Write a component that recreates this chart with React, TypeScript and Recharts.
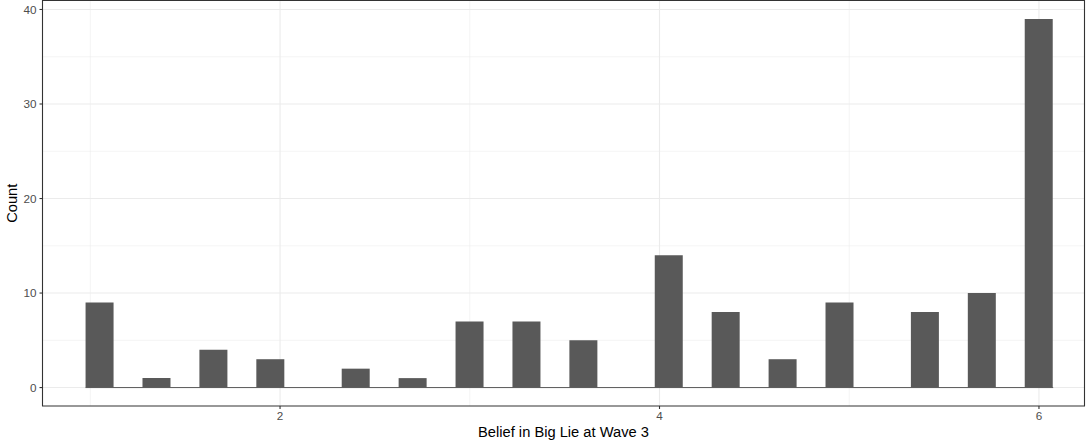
import React from "react";
import {
  BarChart,
  Bar,
  XAxis,
  YAxis,
  CartesianGrid,
  ReferenceLine,
  ReferenceArea,
} from "recharts";

// histogram bins (binwidth 0.15)
const binCenters = [
  1.05, 1.2, 1.35, 1.5, 1.65, 1.8, 1.95, 2.1, 2.25, 2.4, 2.55, 2.7, 2.85, 3.0,
  3.15, 3.3, 3.45, 3.6, 3.75, 3.9, 4.05, 4.2, 4.35, 4.5, 4.65, 4.8, 4.95, 5.1,
  5.25, 5.4, 5.55, 5.7, 5.85, 6.0,
];
const counts = [
  9, 0, 1, 0, 4, 0, 3, 0, 0, 2, 0, 1, 0, 7, 0, 7, 0, 5, 0, 0, 14, 0, 8, 0, 3, 0,
  9, 0, 0, 8, 0, 10, 0, 39,
];
const BIN_W = 0.15;

const xTicks = [2, 4, 6];
const xMinor = [1, 3, 5];
const yTicks = [0, 10, 20, 30, 40];
const yMinor = [5, 15, 25, 35];

const X_DOMAIN: [number, number] = [0.748, 6.24];
const Y_DOMAIN: [number, number] = [-1.95, 40.95];

const data = binCenters.map((x, i) => ({ x, count: counts[i] }));

const W = 1086;
const H = 444;
const MARGIN = { top: 0.5, right: 1.5, left: 0, bottom: 0 };
const Y_AXIS_W = 42.5;
const X_AXIS_H = 38;

const FONT = '"Liberation Sans", Arial, sans-serif';
const tickStyle = { fill: "#4d4d4d", fontSize: 11.7, fontFamily: FONT };

export default function App() {
  return (
    <div style={{ position: "absolute", left: 0, top: 0, background: "#fff" }}>
      <BarChart
        width={W}
        height={H}
        data={data}
        margin={MARGIN}
        barCategoryGap={0}
        barGap={0}
      >
        <CartesianGrid
          stroke="#ebebeb"
          strokeWidth={0.55}
          verticalValues={xMinor}
          horizontalValues={yMinor}
        />
        <CartesianGrid
          stroke="#ebebeb"
          strokeWidth={1.1}
          verticalValues={xTicks}
          horizontalValues={yTicks}
        />
        <XAxis
          dataKey="x"
          type="number"
          domain={X_DOMAIN}
          ticks={xTicks}
          allowDataOverflow
          height={X_AXIS_H}
          tick={tickStyle}
          tickSize={3}
          tickMargin={3}
          tickLine={{ stroke: "#333333", strokeWidth: 1.1 }}
          axisLine={false}
          label={{
            value: "Belief in Big Lie at Wave 3",
            position: "insideBottom",
            offset: 7,
            style: { fill: "#000", fontSize: 14.7, fontFamily: FONT },
          }}
        />
        <YAxis
          type="number"
          domain={Y_DOMAIN}
          ticks={yTicks}
          allowDataOverflow
          width={Y_AXIS_W}
          tick={tickStyle}
          tickSize={3}
          tickMargin={3}
          tickLine={{ stroke: "#333333", strokeWidth: 1.1 }}
          axisLine={false}
          label={{
            value: "Count",
            angle: -90,
            position: "insideLeft",
            offset: 12,
            style: {
              fill: "#000",
              fontSize: 14.7,
              fontFamily: FONT,
              textAnchor: "middle",
            },
          }}
        />
        <Bar dataKey="count" fill="#595959" isAnimationActive={false} />
        <ReferenceLine
          segment={[
            { x: binCenters[0] - BIN_W / 2, y: 0 },
            { x: binCenters[binCenters.length - 1] + BIN_W / 2, y: 0 },
          ]}
          stroke="#595959"
          strokeWidth={1}
        />
        <ReferenceArea
          x1={X_DOMAIN[0]}
          x2={X_DOMAIN[1]}
          y1={Y_DOMAIN[0]}
          y2={Y_DOMAIN[1]}
          fill="none"
          stroke="#333333"
          strokeWidth={1.1}
          ifOverflow="visible"
        />
      </BarChart>
    </div>
  );
}
